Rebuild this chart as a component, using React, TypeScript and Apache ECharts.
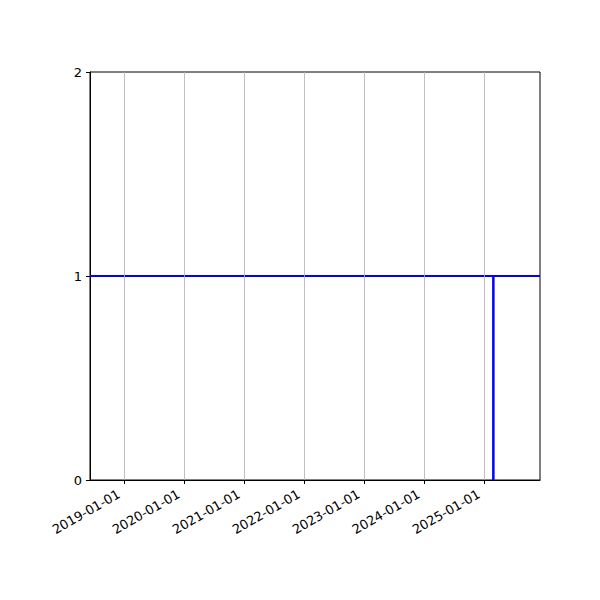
import React, { useEffect, useRef } from "react";
import * as echarts from "echarts";

const tickLabels = ["2019-01-01", "2020-01-01", "2021-01-01", "2022-01-01", "2023-01-01", "2024-01-01", "2025-01-01"];
const yTicks = [0, 1, 2];
const xRange = ["2018-06-08", "2025-12-08"];
const levelDates = ["2018-06-08", "2025-12-08"];
const levelValues = [1, 1];
const eventDates = ["2025-02-27", "2025-02-27"];
const eventValues = [0, 1];

const ts = (s: string) => {
  const [y, m, d] = s.split("-").map(Number);
  return Date.UTC(y, m - 1, d);
};
const fmt = (v: number) => {
  const d = new Date(v);
  const p = (n: number) => String(n).padStart(2, "0");
  return `${d.getUTCFullYear()}-${p(d.getUTCMonth() + 1)}-${p(d.getUTCDate())}`;
};

export default function App() {
  const ref = useRef<HTMLDivElement>(null);
  useEffect(() => {
    if (!ref.current) return;
    const chart = echarts.init(ref.current, null, { renderer: "svg" });
    const tickTs = tickLabels.map(ts);
    const font = { fontFamily: "DejaVu Sans", fontSize: 13, color: "#000" };
    chart.setOption({
      animation: false,
      grid: { left: 90, right: 60, top: 72, bottom: 120, show: true, borderColor: "#000", borderWidth: 1, backgroundColor: "transparent" },
      xAxis: {
        type: "value",
        min: ts(xRange[0]),
        max: ts(xRange[1]),
        axisLine: { show: true, onZero: false, lineStyle: { color: "#000", width: 1 } },
        axisTick: { show: true, customValues: tickTs, length: 4, lineStyle: { color: "#000" } },
        axisLabel: { ...font, customValues: tickTs, rotate: 30, margin: 10, padding: [0, 6, 0, 0], formatter: (v: number) => fmt(v) },
        splitLine: { show: false },
      },
      yAxis: {
        type: "value",
        min: yTicks[0],
        max: yTicks[yTicks.length - 1],
        interval: 1,
        axisLine: { show: true, lineStyle: { color: "#000", width: 1 } },
        axisTick: { show: true, length: 4, lineStyle: { color: "#000" } },
        axisLabel: { ...font, margin: 8 },
        splitLine: { show: false },
      },
      series: [
        {
          type: "line",
          data: [],
          z: 1,
          silent: true,
          markLine: {
            silent: true,
            symbol: "none",
            label: { show: false },
            lineStyle: { color: "#b0b0b0", width: 0.8, type: "solid" },
            data: tickTs.map((t) => ({ xAxis: t })),
          },
        },
        {
          type: "line",
          z: 3,
          showSymbol: false,
          lineStyle: { color: "#0000ff", width: 2.2 },
          itemStyle: { color: "#0000ff" },
          data: levelDates.map((d, i) => [ts(d), levelValues[i]]),
        },
        {
          type: "line",
          z: 3,
          showSymbol: false,
          lineStyle: { color: "#0000ff", width: 2.5 },
          itemStyle: { color: "#0000ff" },
          data: eventDates.map((d, i) => [ts(d), eventValues[i]]),
        },
      ],
    });
    return () => chart.dispose();
  }, []);
  return <div ref={ref} style={{ width: 600, height: 600, position: "absolute", left: 0, top: 0 }} />;
}
